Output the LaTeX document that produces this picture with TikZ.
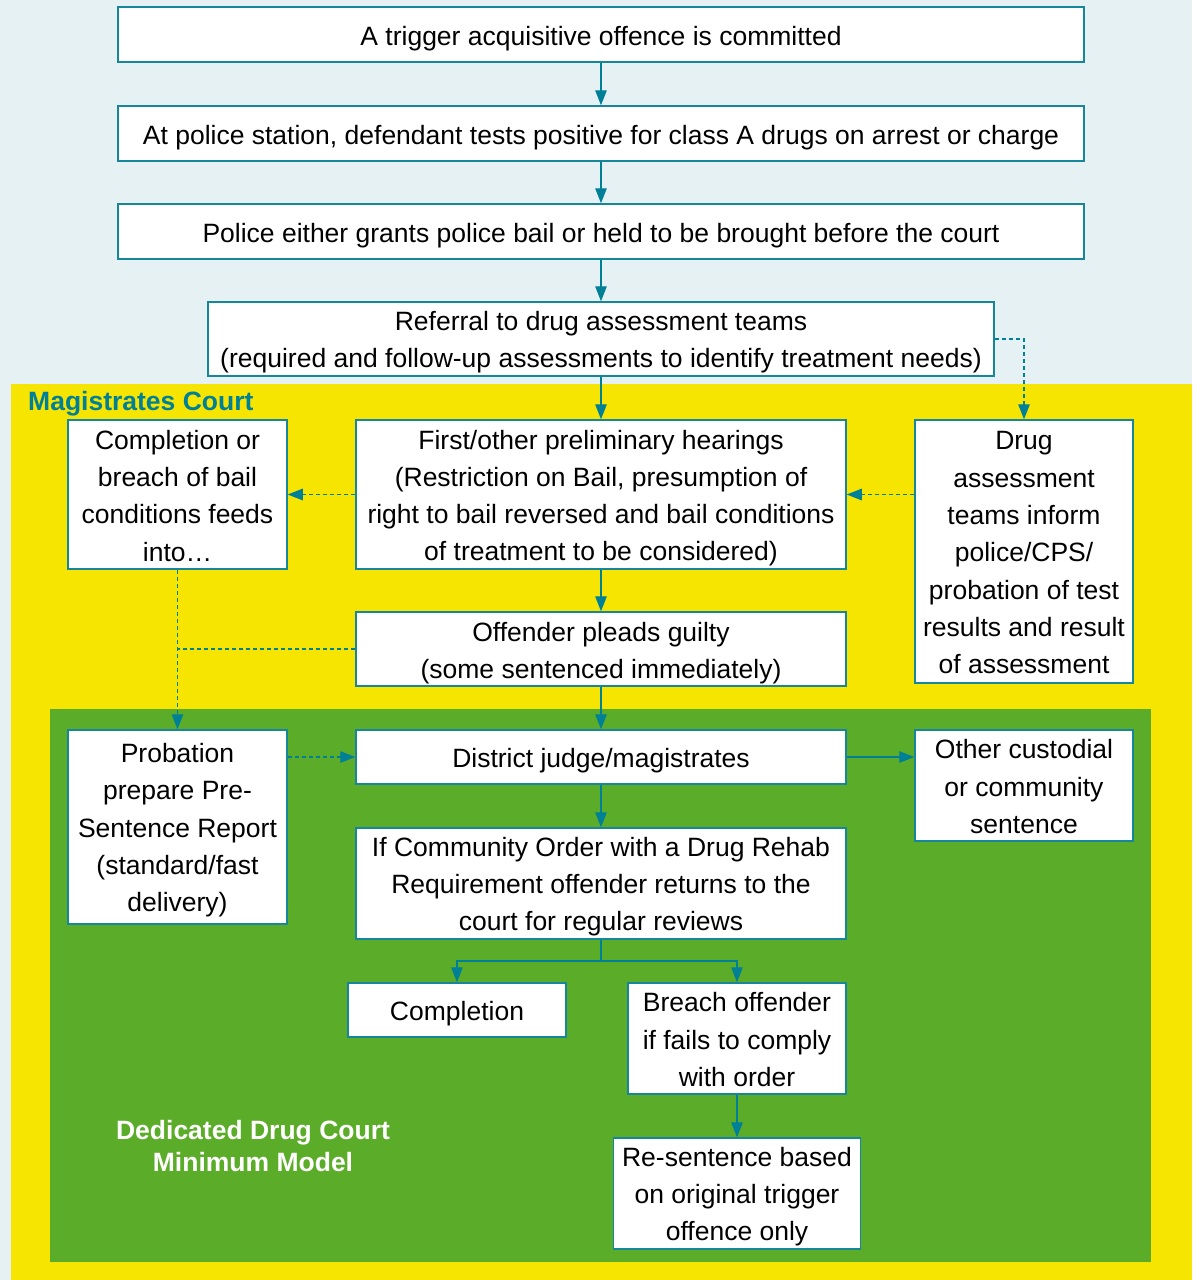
\documentclass[tikz,border=0pt]{standalone}
\usepackage{fontspec}
\setmainfont{Liberation Sans}
\usetikzlibrary{arrows.meta}
\definecolor{bgblue}{RGB}{229,241,243}
\definecolor{ylw}{RGB}{246,229,0}
\definecolor{grn}{RGB}{91,173,41}
\definecolor{tealb}{RGB}{22,134,154}
\definecolor{teala}{RGB}{0,128,150}
\newcommand\myup[1]{\rule{0pt}{#1}}
\begin{document}
\begin{tikzpicture}[x=1pt,y=-1pt,
  box/.style={draw=tealb,line width=1.5pt,fill=white,inner sep=0pt,align=center,
    font=\fontsize{26.5}{37.3}\selectfont,text=black},
  conn/.style={draw=teala,line width=1.3pt},
  arr/.style={conn,-{Triangle[length=15pt,width=11.5pt]}},
  dsh/.style={dash pattern=on 4pt off 3pt}]
\useasboundingbox (0,0) rectangle (1192,1280);
\fill[bgblue] (0,0) rectangle (1192,1280);
\fill[ylw] (11,384) rectangle (1192,1280);
\fill[grn] (50,709) rectangle (1151,1262);
\node[anchor=base west,inner sep=0pt,text=teala,font=\fontsize{26.5}{30}\selectfont\bfseries] (mag) at (28,410) {Magistrates Court};
\node[align=center,inner sep=0pt,text=white,font=\fontsize{26.5}{32}\selectfont\bfseries] (ddc) at (253,1146) {Dedicated Drug Court\\Minimum Model};

\node[box,minimum width=966pt,minimum height=55pt] (n1) at (601,34.5) {\myup{26.5pt}A trigger acquisitive offence is committed};
\node[box,minimum width=966pt,minimum height=55pt] (n2) at (601,133.5) {\myup{26.5pt}At police station, defendant tests positive for class A drugs on arrest or charge};
\node[box,minimum width=966pt,minimum height=55pt] (n3) at (601,231.5) {\myup{26.5pt}Police either grants police bail or held to be brought before the court};
\node[box,minimum width=786pt,minimum height=74pt] (n4) at (601,339) {\myup{25.5pt}Referral to drug assessment teams\\(required and follow-up assessments to identify treatment needs)};
\node[box,minimum width=219pt,minimum height=149pt] (n5) at (177.5,494.5) {\myup{21.5pt}Completion or\\breach of bail\\conditions feeds\\into…};
\node[box,minimum width=490pt,minimum height=149pt] (n6) at (601,494.5) {\myup{26.5pt}First/other preliminary hearings\\(Restriction on Bail, presumption of\\right to bail reversed and bail conditions\\of treatment to be considered)};
\node[box,minimum width=218pt,minimum height=263pt] (n7) at (1024,551.5) {\myup{21pt}Drug\\assessment\\teams inform\\police/CPS/\\probation of test\\results and result\\of assessment};
\node[box,minimum width=490pt,minimum height=74pt] (n8) at (601,649) {\myup{27pt}Offender pleads guilty\\(some sentenced immediately)};
\node[box,minimum width=219pt,minimum height=194pt] (n9) at (177.5,827) {\myup{25.5pt}Probation\\prepare Pre-\\Sentence Report\\(standard/fast\\delivery)};
\node[box,minimum width=490pt,minimum height=54pt] (n10) at (601,757) {\myup{26.5pt}District judge/magistrates};
\node[box,minimum width=218pt,minimum height=111pt] (n11) at (1024,785.5) {\myup{21.5pt}Other custodial\\or community\\sentence};
\node[box,minimum width=490pt,minimum height=111pt] (n12) at (601,883.5) {\myup{25.5pt}If Community Order with a Drug Rehab\\Requirement offender returns to the\\court for regular reviews};
\node[box,minimum width=218pt,minimum height=54pt] (n13) at (457,1010) {\myup{26.5pt}Completion};
\node[box,minimum width=218pt,minimum height=111pt] (n14) at (737,1038.5) {\myup{21.5pt}Breach offender\\if fails to comply\\with order};
\node[box,minimum width=247pt,minimum height=111pt] (n15) at (737,1193.5) {\myup{25.5pt}Re-sentence based\\on original trigger\\offence only};

\draw[arr] (n1.south) -- (n2.north);
\draw[arr] (n2.south) -- (n3.north);
\draw[arr] (n3.south) -- (n4.north);
\draw[arr] (n4.south) -- (n6.north);
\draw[arr,dsh] (n4.east) -| (n7.north);
\draw[arr,dsh] (n7.west |- n6.east) -- (n6.east);
\draw[arr,dsh] (n6.west) -- (n5.east);
\draw[arr] (n6.south) -- (n8.north);
\draw[arr,dsh] (n5.south) -- (n9.north);
\draw[conn,dsh] (n8.west) -- (n8.west -| n5.south);
\draw[arr] (n8.south) -- (n10.north);
\draw[arr,dsh] (n9.east |- n10.west) -- (n10.west);
\draw[arr] (n10.east) -- (n11.west |- n10.east);
\draw[arr] (n10.south) -- (n12.north);
\coordinate (br) at (601,961);
\draw[conn] (n12.south) -- (br);
\draw[arr] (br) -| (n13.north);
\draw[arr] (br) -| (n14.north);
\draw[arr] (n14.south) -- (n15.north);
\end{tikzpicture}
\end{document}
